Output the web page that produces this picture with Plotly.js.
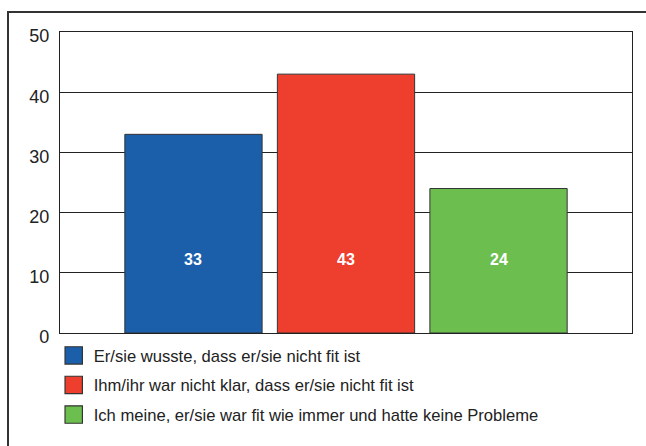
<!DOCTYPE html>
<html>
<head>
<meta charset="utf-8">
<script src="https://cdn.plot.ly/plotly-3.0.1.min.js"></script>
<style>
  html, body { margin: 0; padding: 0; background: #fff; }
  #chart { width: 646px; height: 446px; }
</style>
</head>
<body>
<div id="chart"></div>
<script>
  // answers and their shares
  var answers = [
    'Er/sie wusste, dass er/sie nicht fit ist',
    'Ihm/ihr war nicht klar, dass er/sie nicht fit ist',
    'Ich meine, er/sie war fit wie immer und hatte keine Probleme'
  ];
  var values = [33, 43, 24];
  var colors = ['#1b5faa', '#ee3e2d', '#6cbf4f'];
  var positions = [0, 1, 2];
  var yTicks = [0, 10, 20, 30, 40, 50];

  var labelLevel = 12.2; // all value labels sit at the same height

  var font = 'Liberation Sans, Arial, sans-serif';

  var traces = answers.map(function(name, i){
    return {
      type: 'bar',
      name: name,
      x: [positions[i]],
      y: [values[i]],
      width: 0.9,
      legendgroup: 'g' + i,
      marker: { color: colors[i], line: { color: '#333', width: 1 } },
      hoverinfo: 'y'
    };
  });

  var annotations = values.map(function(v, i){
    return {
      x: positions[i], y: labelLevel, xref: 'x', yref: 'y',
      text: '<b>' + v + '</b>', showarrow: false,
      font: { family: font, size: 16, color: '#fff' }
    };
  });

  var layout = {
    width: 646,
    height: 446,
    margin: { l: 60, r: 14, t: 32, b: 113, autoexpand: false },
    paper_bgcolor: '#fff',
    plot_bgcolor: '#fff',
    font: { family: font, color: '#222' },
    showlegend: true,
    legend: {
      x: -0.011, xanchor: 'left',
      y: -0.017, yanchor: 'top',
      font: { family: font, size: 16.6, color: '#222' },
      tracegroupgap: 5,
      bgcolor: 'rgba(0,0,0,0)'
    },
    xaxis: {
      range: [-0.875, 2.875],
      showticklabels: false,
      ticks: '',
      showgrid: false,
      zeroline: false,
      showline: true, mirror: true,
      linecolor: '#222', linewidth: 1.2
    },
    yaxis: {
      range: [0, 50],
      tickvals: yTicks,
      ticks: '',
      ticklabelstandoff: 6,
      ticklabelshift: 4,
      tickfont: { family: font, size: 18, color: '#222' },
      showgrid: true, gridcolor: '#222', gridwidth: 1,
      zeroline: false,
      showline: true, mirror: true,
      linecolor: '#222', linewidth: 1.2
    },
    shapes: [{
      type: 'rect', xref: 'paper', yref: 'paper',
      x0: -0.0909, x1: 1.06, y0: -0.6, y1: 1.0664,
      line: { color: '#333', width: 2 },
      layer: 'below'
    }],
    annotations: annotations
  };

  Plotly.newPlot('chart', traces, layout, { displayModeBar: false, staticPlot: true }).then(function(gd){
    // bigger legend swatches, like the original
    var pts = gd.querySelectorAll('.legend .legendpoints path');
    pts.forEach(function(p){
      var t = p.getAttribute('transform') || '';
      p.setAttribute('transform', t + ' scale(1.45)');
      p.style.strokeWidth = '0.8px';
    });
  });
</script>
</body>
</html>
